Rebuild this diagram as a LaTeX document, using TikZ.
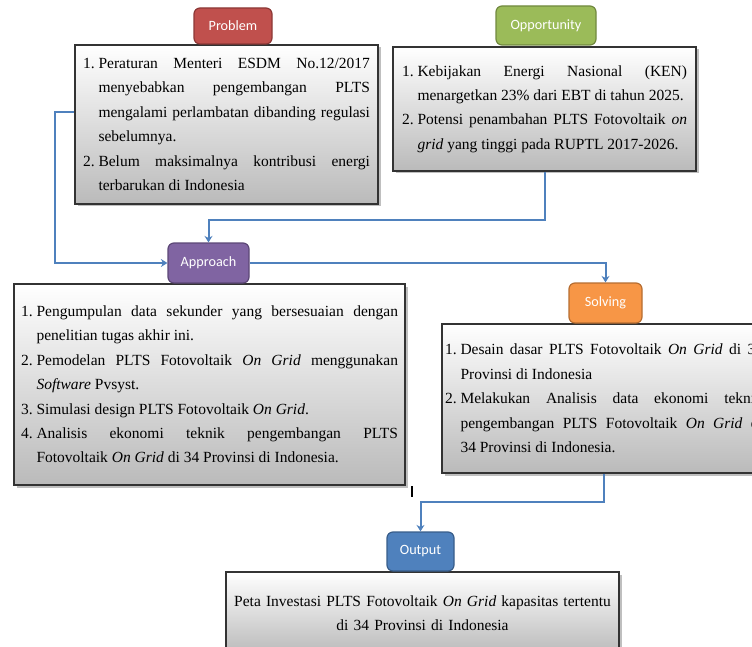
\documentclass[tikz,border=0pt]{standalone}
\usepackage{fontspec}
\setmainfont{Liberation Serif}
\newfontfamily\tagfont{Carlito}
\usetikzlibrary{shadows,arrows.meta}

\definecolor{probred}{HTML}{C0504D}
\definecolor{probredd}{HTML}{8C3836}
\definecolor{oppgreen}{HTML}{9BBB59}
\definecolor{oppgreend}{HTML}{71893F}
\definecolor{apppurple}{HTML}{8064A2}
\definecolor{apppurpled}{HTML}{5C4776}
\definecolor{solvorange}{HTML}{F79646}
\definecolor{solvoranged}{HTML}{B66D31}
\definecolor{outblue}{HTML}{4F81BD}
\definecolor{outblued}{HTML}{385D8A}
\definecolor{flowblue}{HTML}{4F81BD}

\hyphenpenalty=10000
\exhyphenpenalty=10000
\newlength{\numw}\setlength{\numw}{15.5pt}
\newcommand{\numitem}[2]{\noindent\hangindent=\numw\hangafter=1\makebox[\numw][l]{#1}#2\par}

\begin{document}
\begin{tikzpicture}[x=1pt,y=-1pt,
  tagbox/.style={draw, line width=1.2pt, rounded corners=6pt, text=white,
    font=\tagfont\fontsize{14.2}{16}\selectfont, inner sep=0pt},
  listbox/.style={draw=black!80, line width=1.2pt, top color=white, bottom color=black!27,
    drop shadow={shadow xshift=2.5pt, shadow yshift=-2.5pt, opacity=0.5},
    align=justify, inner sep=0pt, font=\fontsize{15.5}{24.4}\selectfont},
  flow/.style={draw=flowblue, line width=2pt, -{Stealth[length=6.5pt,width=8pt]}}]
  \useasboundingbox (0,0) rectangle (752,647);
  \clip (0,0) rectangle (752,647);

  % boxes
  \node[listbox, minimum width=303pt, minimum height=159pt, text width=287pt] (problembox) at (226.5,124.5) {
    \numitem{1.}{Peraturan Menteri ESDM No.12/2017\linebreak
      menyebabkan pengembangan PLTS\linebreak
      mengalami perlambatan dibanding regulasi\linebreak
      sebelumnya.}
    \numitem{2.}{Belum maksimalnya kontribusi energi\linebreak
      terbarukan di Indonesia}};
  \node[listbox, minimum width=303pt, minimum height=124pt, text width=285pt] (oppbox) at (544.5,109) {
    \numitem{1.}{Kebijakan Energi Nasional (KEN)\linebreak
      menargetkan 23\% dari EBT di tahun 2025.}
    \numitem{2.}{Potensi penambahan PLTS Fotovoltaik \textit{on}\linebreak
      \textit{grid} yang tinggi pada RUPTL 2017-2026.}};
  \node[listbox, minimum width=391pt, minimum height=201pt, text width=377pt] (approachbox) at (209.5,384.5) {
    \numitem{1.}{Pengumpulan data sekunder yang bersesuaian dengan\linebreak
      penelitian tugas akhir ini.}
    \numitem{2.}{Pemodelan PLTS Fotovoltaik \textit{On Grid} menggunakan\linebreak
      \textit{Software} Pvsyst.}
    \numitem{3.}{Simulasi design PLTS Fotovoltaik \textit{On Grid}.}
    \numitem{4.}{Analisis ekonomi teknik pengembangan PLTS\linebreak
      Fotovoltaik \textit{On Grid} di 34 Provinsi di Indonesia.}};
  \node[listbox, minimum width=324pt, minimum height=149pt, text width=318pt] (solvingbox) at (604,398.5) {
    \numitem{1.}{Desain dasar PLTS Fotovoltaik \textit{On Grid} di 34\linebreak
      Provinsi di Indonesia}
    \numitem{2.}{Melakukan Analisis data ekonomi teknik\linebreak
      pengembangan PLTS Fotovoltaik \textit{On Grid} di\linebreak
      34 Provinsi di Indonesia.}};
  \node[listbox, minimum width=393pt, minimum height=82pt, text width=385pt, align=center] (outputbox) at (422.5,613) {
    Peta Investasi PLTS Fotovoltaik \textit{On Grid} kapasitas tertentu\\
    di 34 Provinsi di Indonesia};

  % tags
  \node[tagbox, fill=probred, draw=probredd, minimum width=78pt, minimum height=36pt] (problem) at (233,26) {Problem};
  \node[tagbox, fill=oppgreen, draw=oppgreend, minimum width=100pt, minimum height=39pt] (opportunity) at (546,25.5) {Opportunity};
  \node[tagbox, fill=apppurple, draw=apppurpled, minimum width=81pt, minimum height=40pt] (approach) at (208.5,263) {Approach};
  \node[tagbox, fill=solvorange, draw=solvoranged, minimum width=73pt, minimum height=40pt] (solving) at (605.5,303) {Solving};
  \node[tagbox, fill=outblue, draw=outblued, minimum width=67pt, minimum height=39pt] (output) at (420.5,551.5) {Output};

  % connectors
  \draw[flow] ([yshift=12pt]problembox.west) -- ++(-19,0) |- (approach.west);
  \draw[flow] (oppbox.south) -- ++(0,48) -| (approach.north);
  \draw[flow] (approach.east) -| (solving.north);
  \draw[flow] (solvingbox.south) -- ++(0,28) -| (output.north);

  \draw[line width=1.4pt] (412,486) -- (412,497);
\end{tikzpicture}
\end{document}
